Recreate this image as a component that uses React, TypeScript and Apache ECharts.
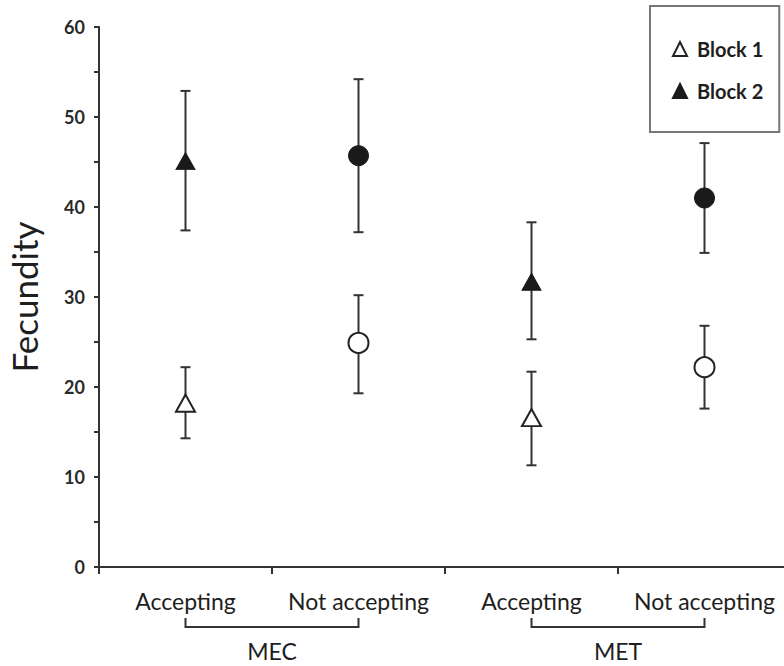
import React, { useEffect, useRef } from "react";
import * as echarts from "echarts";

const categories = ["Accepting", "Not accepting", "Accepting", "Not accepting"];
const groups = ["MEC", "MET"];
const groupSpans = [
  [0, 1],
  [2, 3],
];
const symbols = ["triangle", "circle", "triangle", "circle"];
const block1Mean = [18.2, 24.9, 16.6, 22.2];
const block1Low = [14.3, 19.3, 11.3, 17.6];
const block1High = [22.2, 30.2, 21.7, 26.8];
const block2Mean = [45.1, 45.7, 31.7, 41.0];
const block2Low = [37.4, 37.2, 25.3, 34.9];
const block2High = [52.9, 54.2, 38.3, 47.1];
const yMin = 0;
const yMax = 60;
const yInterval = 10;

const FONT = "Lato";
const INK = "#1e1e1e";
const AXIS = "#333";

function symbolSize(s: string) {
  return s === "triangle" ? [19, 17] : 20;
}

export default function App() {
  const ref = useRef<HTMLDivElement>(null);

  useEffect(() => {
    if (!ref.current) return;
    const chart = echarts.init(ref.current, undefined, { renderer: "svg" });

    const errData = categories.flatMap((_, i) => [
      [i, block1Low[i], block1High[i]],
      [i, block2Low[i], block2High[i]],
    ]);

    const option: any = {
      animation: false,
      backgroundColor: "#fff",
      grid: { left: 99, top: 27, bottom: 99, right: -7, outerBoundsMode: "none", containLabel: false },
      legend: {
        orient: "vertical",
        left: 650,
        top: 6,
        padding: [33, 16, 31, 22],
        borderColor: "#777",
        borderWidth: 2,
        itemGap: 22,
        itemWidth: 14,
        itemHeight: 14,
        selectedMode: false,
        textStyle: {
          fontFamily: FONT,
          fontWeight: "bold",
          fontSize: 20,
          lineHeight: 20,
          color: INK,
          padding: [0, 0, 0, 5],
        },
        data: [
          { name: "Block 1", icon: "triangle" },
          { name: "Block 2", icon: "triangle" },
        ],
      },
      xAxis: [
        {
          type: "category",
          data: categories,
          boundaryGap: true,
          axisLine: { lineStyle: { color: AXIS, width: 2 } },
          axisTick: { show: true, length: 7, lineStyle: { color: AXIS, width: 2 } },
          axisLabel: {
            fontFamily: FONT,
            fontSize: 23,
            color: INK,
            margin: 22,
            interval: 0,
          },
          splitLine: { show: false },
        },
        {
          type: "category",
          data: groups,
          position: "bottom",
          offset: 72,
          axisLine: { show: false },
          axisTick: { show: false },
          axisLabel: {
            fontFamily: FONT,
            fontSize: 23,
            color: INK,
            margin: 0,
            interval: 0,
          },
          splitLine: { show: false },
        },
      ],
      yAxis: {
        type: "value",
        min: yMin,
        max: yMax,
        interval: yInterval,
        name: "Fecundity",
        nameLocation: "middle",
        nameRotate: 90,
        nameGap: 58,
        nameTextStyle: { fontFamily: FONT, fontSize: 35, color: INK },
        axisLine: { show: true, lineStyle: { color: AXIS, width: 2 } },
        axisTick: { show: true, length: 5, lineStyle: { color: AXIS, width: 2 } },
        minorTick: { show: true, splitNumber: 2, length: 5, lineStyle: { color: AXIS, width: 2 } },
        axisLabel: {
          fontFamily: FONT,
          fontWeight: "bold",
          fontSize: 18,
          color: "#2a2a2a",
          margin: 14,
        },
        splitLine: { show: false },
      },
      series: [
        {
          type: "custom",
          name: "errors",
          xAxisIndex: 0,
          z: 1,
          clip: false,
          encode: { x: 0, y: [1, 2] },
          data: errData,
          renderItem: (params: any, api: any) => {
            const x = api.value(0);
            const lo = api.coord([x, api.value(1)]);
            const hi = api.coord([x, api.value(2)]);
            const hw = 5;
            const style = { stroke: AXIS, lineWidth: 2 };
            return {
              type: "group",
              children: [
                { type: "line", shape: { x1: lo[0], y1: lo[1], x2: hi[0], y2: hi[1] }, style },
                { type: "line", shape: { x1: lo[0] - hw, y1: lo[1], x2: lo[0] + hw, y2: lo[1] }, style },
                { type: "line", shape: { x1: hi[0] - hw, y1: hi[1], x2: hi[0] + hw, y2: hi[1] }, style },
              ],
            };
          },
        },
        {
          type: "custom",
          name: "brackets",
          xAxisIndex: 0,
          z: 1,
          clip: false,
          silent: true,
          encode: { x: [0, 1] },
          data: groupSpans,
          renderItem: (params: any, api: any) => {
            const a = api.coord([api.value(0), 0]);
            const b = api.coord([api.value(1), 0]);
            const y0 = a[1];
            return {
              type: "polyline",
              shape: {
                points: [
                  [a[0], y0 + 51],
                  [a[0], y0 + 60],
                  [b[0], y0 + 60],
                  [b[0], y0 + 51],
                ],
              },
              style: { stroke: AXIS, lineWidth: 2, fill: "none" },
            };
          },
        },
        {
          type: "scatter",
          name: "Block 1",
          xAxisIndex: 0,
          z: 3,
          itemStyle: { color: "#fff", borderColor: "#222", borderWidth: 2, opacity: 1 },
          data: block1Mean.map((v, i) => ({
            value: [i, v],
            symbol: symbols[i],
            symbolSize: symbolSize(symbols[i]),
          })),
        },
        {
          type: "scatter",
          name: "Block 2",
          xAxisIndex: 0,
          z: 3,
          itemStyle: { color: "#1a1a1a", borderColor: "#1a1a1a", borderWidth: 1, opacity: 1 },
          data: block2Mean.map((v, i) => ({
            value: [i, v],
            symbol: symbols[i],
            symbolSize: symbolSize(symbols[i]),
          })),
        },
      ],
    };

    chart.setOption(option);
    return () => chart.dispose();
  }, []);

  return (
    <div
      ref={ref}
      style={{ position: "fixed", left: 0, top: 0, width: 784, height: 666, background: "#fff" }}
    />
  );
}
